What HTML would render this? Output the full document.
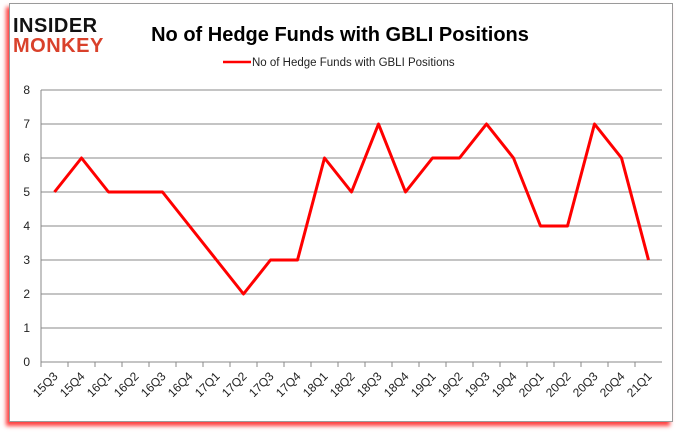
<!DOCTYPE html>
<html><head><meta charset="utf-8"><style>
body{margin:0;background:#fff;width:680px;height:433px;overflow:hidden;font-family:"Liberation Sans",sans-serif}
#frame{position:absolute;left:9px;top:3px;width:662px;height:417px;border:1px solid #9a9a9a;background:#fff;box-shadow:-3px 4px 4px rgba(255,0,0,0.75)}
</style></head><body>
<div id="frame"></div>
<svg id="chart" width="680" height="433" style="position:absolute;left:0;top:0">
<g>
<text x="13" y="32" font-size="20" font-weight="bold" fill="#111" letter-spacing="0.5">INSIDER</text>
<text x="13" y="52" font-size="20" font-weight="bold" fill="#d9412b" letter-spacing="0.5">MONKEY</text>
</g>
<text x="340" y="41" text-anchor="middle" font-size="20" font-weight="bold" fill="#000">No of Hedge Funds with GBLI Positions</text>
<line x1="223" y1="62" x2="251" y2="62" stroke="#f00" stroke-width="2.5"/>
<text x="252" y="66" font-size="11.5" fill="#222">No of Hedge Funds with GBLI Positions</text>
<g id="plot"></g>
</svg>
<script>
const categories=["15Q3","15Q4","16Q1","16Q2","16Q3","16Q4","17Q1","17Q2","17Q3","17Q4","18Q1","18Q2","18Q3","18Q4","19Q1","19Q2","19Q3","19Q4","20Q1","20Q2","20Q3","20Q4","21Q1"];
const values=[5,6,5,5,5,4,3,2,3,3,6,5,7,5,6,6,7,6,4,4,7,6,3];
const yTicks=[0,1,2,3,4,5,6,7,8];
const L=41,R=662,T=90,B=362,NS="http://www.w3.org/2000/svg";
const cw=(R-L)/categories.length;
const x=i=>L+cw*(i+0.5);
const y=v=>B-(v/8)*(B-T);
const g=document.getElementById('plot');
function mk(t,a){const e=document.createElementNS(NS,t);for(const k in a)e.setAttribute(k,a[k]);g.appendChild(e);return e;}
yTicks.forEach(v=>{
 if(v>0){const l=mk('line',{x1:L,x2:R,y1:y(v),y2:y(v),stroke:'#888','stroke-width':1});
 
 }
 const t=mk('text',{x:L-11,y:y(v)+4,'text-anchor':'end','font-size':12,fill:'#222'});t.textContent=v;
 
 
});
const ax=mk('line',{x1:L,x2:L,y1:T,y2:B,stroke:'#888'});


const bx=mk('line',{x1:L,x2:R,y1:B,y2:B,stroke:'#888'});


categories.forEach((c,i)=>{
 const tk=mk('line',{x1:L+cw*i,x2:L+cw*i,y1:B,y2:B+5,stroke:'#888'});
 
 
 const xc=x(i)+4,yc=B+15;
 const t=mk('text',{x:xc,y:yc,'text-anchor':'end','font-size':12,fill:'#222',transform:`rotate(-45 ${xc} ${yc})`});
 t.textContent=c;
 
 
});
const p=mk('polyline',{points:values.map((v,i)=>x(i)+','+y(v)).join(' '),fill:'none',stroke:'#f00','stroke-width':3,'stroke-linejoin':'round'});


</script>
</body></html>
